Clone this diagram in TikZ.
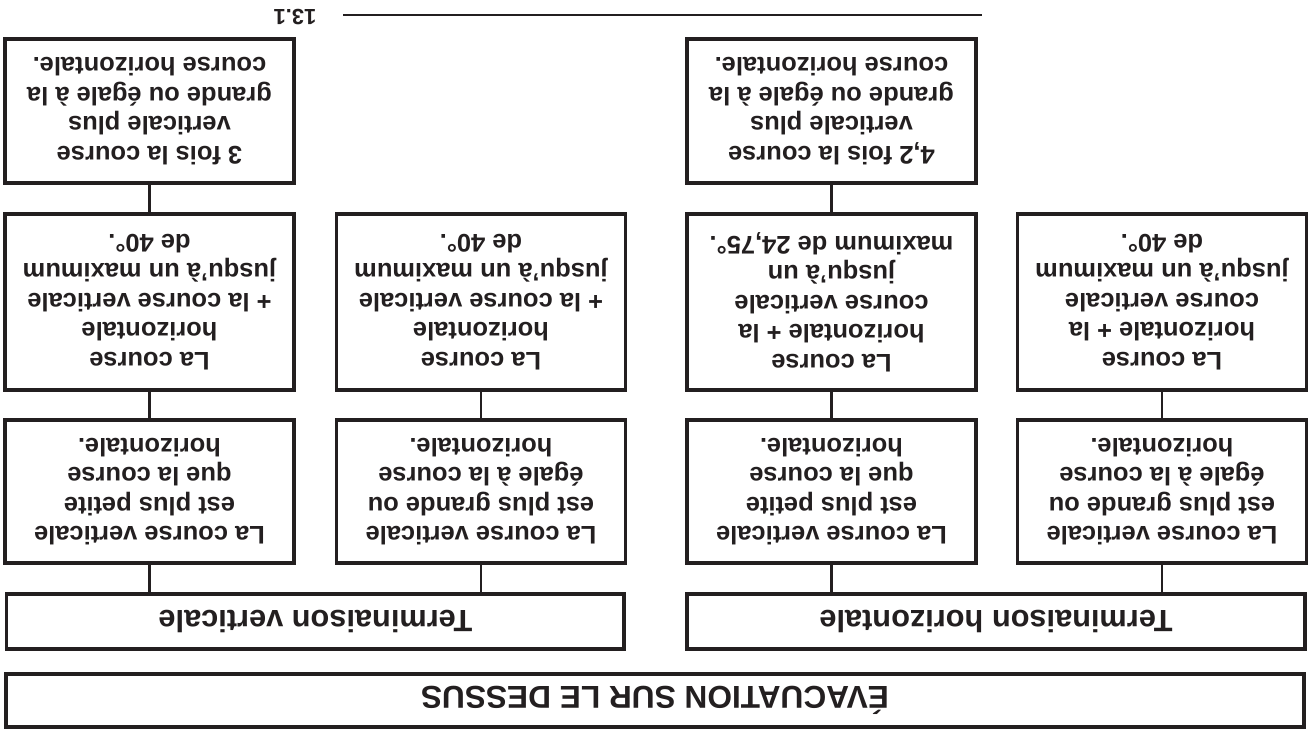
\documentclass[tikz,border=0pt]{standalone}
\usepackage{fontspec}
\setmainfont{Liberation Sans}
\usepackage{tikz}
\usetikzlibrary{positioning, calc}
\definecolor{inkblack}{HTML}{231F20}

\tikzset{
  box/.style={draw=inkblack, line width=2.2pt, fill=white, text=inkblack, align=center,
    inner sep=0pt, font=\fontsize{14.5}{16.8}\selectfont\bfseries},
  factorbox/.style={box, minimum width=5.78cm, minimum height=2.88cm},
  rulebox/.style={box, minimum width=5.78cm, minimum height=3.52cm},
  casebox/.style={box, minimum width=5.78cm, minimum height=2.86cm},
  endbox/.style={box, minimum width=12.36cm, minimum height=1.1cm,
    font=\fontsize{17.5}{20}\selectfont\bfseries},
  link/.style={draw=inkblack, line width=1.2pt}
}

\begin{document}
\begin{tikzpicture}[x=0.02cm, y=0.02cm, rotate=180, transform shape]
  % page size of the reference (drawn upright, then turned over)
  \useasboundingbox (0,0) rectangle (1309,731);

  % top box
  \node[box, minimum width=25.96cm, minimum height=1.06cm,
    font=\fontsize{18}{20}\selectfont\bfseries] (evac) at (654,700.5) {ÉVACUATION SUR LE DESSUS};

  % the two ways out
  \node[endbox] (termH) at (313,621.5) {Terminaison horizontale};
  \node[endbox] (termV) at (993.5,621.5) {Terminaison verticale};

  % cases
  \node[casebox] (hGe) at (147,491.5) {La course verticale\\est plus grande ou\\égale à la course\\horizontale.};
  \node[casebox] (hLt) at (477.5,491.5) {La course verticale\\est plus petite\\que la course\\horizontale.};
  \node[casebox] (vGe) at (828,491.5) {La course verticale\\est plus grande ou\\égale à la course\\horizontale.};
  \node[casebox] (vLt) at (1159.5,491.5) {La course verticale\\est plus petite\\que la course\\horizontale.};

  % rules
  \node[rulebox] (hGeRule) at (147,302) {La course\\horizontale + la\\course verticale\\jusqu’à un maximum\\de 40°.};
  \node[rulebox] (hLtRule) at (477.5,302) {La course\\horizontale + la\\course verticale\\jusqu’à un\\maximum de 24,75°.};
  \node[rulebox] (vGeRule) at (828,302) {La course\\horizontale\\+ la course verticale\\jusqu’à un maximum\\de 40°.};
  \node[rulebox] (vLtRule) at (1159.5,302) {La course\\horizontale\\+ la course verticale\\jusqu’à un maximum\\de 40°.};

  % factors
  \node[factorbox] (hFactor) at (477.5,111) {4,2 fois la course\\verticale plus\\grande ou égale à la\\course horizontale.};
  \node[factorbox] (vFactor) at (1159.5,111) {3 fois la course\\verticale plus\\grande ou égale à la\\course horizontale.};

  % links
  \foreach \c in {hGe,hLt}
    \draw[link] (\c.north) -- (\c.north |- termH.south);
  \foreach \c in {vGe,vLt}
    \draw[link] (\c.north) -- (\c.north |- termV.south);
  \foreach \c in {hGe,hLt,vGe,vLt}
    \draw[link] (\c.south) -- (\c Rule.north);
  \draw[link] (hLtRule.south) -- (hFactor.north);
  \draw[link] (vLtRule.south) -- (vFactor.north);

  % footer rule and number
  \node[text=inkblack, font=\fontsize{12.5}{14}\selectfont\bfseries] (pagenum) at (1014,17) {13.1};
  \coordinate (rulestart) at (327,15);
  \draw[draw=inkblack, line width=1.6pt, shorten >=0.4cm] (rulestart) -- (rulestart -| pagenum.west);
\end{tikzpicture}
\end{document}
